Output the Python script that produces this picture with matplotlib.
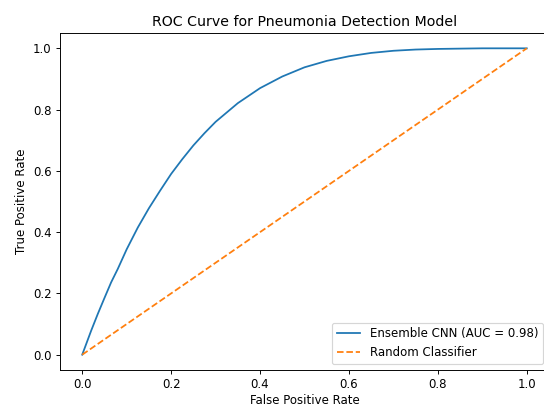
import matplotlib
matplotlib.use("Agg")
import matplotlib.pyplot as plt

# values
fpr = [0.0, 0.01, 0.02, 0.035, 0.05, 0.065, 0.08, 0.10, 0.125, 0.15, 0.175, 0.20,
       0.225, 0.25, 0.275, 0.30, 0.35, 0.40, 0.45, 0.50, 0.55, 0.60, 0.65,
       0.70, 0.75, 0.80, 0.90, 1.0]
tpr = [0.0, 0.039, 0.078, 0.133, 0.185, 0.236, 0.28, 0.344, 0.415, 0.478, 0.535, 0.59,
       0.638, 0.683, 0.723, 0.76, 0.821, 0.870, 0.908, 0.938, 0.959, 0.974, 0.985,
       0.992, 0.996, 0.998, 1.0, 1.0]
diag = [0.0, 1.0]
auc_label = 'Ensemble CNN (AUC = 0.98)'

W, H = 544, 408
fig = plt.figure(figsize=(W / 85, H / 85), dpi=85)
# the reference is cut off at the right edge, so the axes runs past the figure
ax = fig.add_axes([60 / W, 38 / H, 489 / W, 337 / H])
ax.plot(fpr, tpr, label=auc_label)
ax.plot(diag, diag, linestyle='--', label='Random Classifier')
ax.set_xlabel('False Positive Rate', labelpad=2)
ax.set_ylabel('True Positive Rate')
ax.set_title('ROC Curve for Pneumonia Detection Model')
ax.legend(loc='lower right')
fig.savefig('out.png', dpi=85)
